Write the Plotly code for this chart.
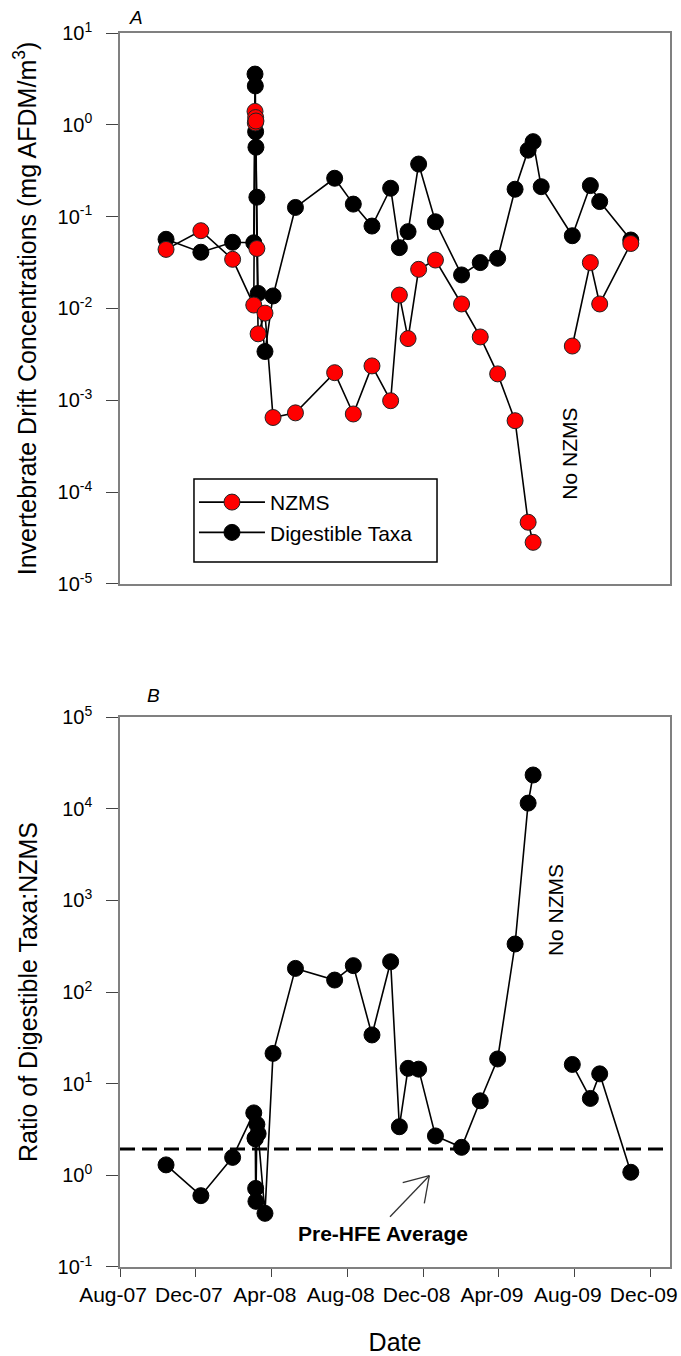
import plotly.graph_objects as go

# ---------------- data ----------------
dates = ["2007-10-14", "2007-12-09", "2008-01-29", "2008-03-03",
         "2008-03-05 00:00", "2008-03-05 12:00", "2008-03-06 00:00", "2008-03-06 12:00",
         "2008-03-08", "2008-03-10", "2008-03-21", "2008-04-03", "2008-05-09",
         "2008-07-11", "2008-08-10", "2008-09-09", "2008-10-09", "2008-10-23",
         "2008-11-06", "2008-11-23", "2008-12-20", "2009-01-31", "2009-03-02",
         "2009-03-30", "2009-04-27", "2009-05-18", "2009-05-26", "2009-06-08",
         "2009-07-28", "2009-08-26", "2009-09-10", "2009-10-30"]

digestible = [0.0567, 0.041, 0.0526, 0.052, 3.57, 2.65, 0.84, 0.57, 0.163, 0.0146,
              0.0034, 0.0137, 0.126, 0.262, 0.137, 0.079, 0.204, 0.046, 0.0687, 0.374,
              0.088, 0.0232, 0.0316, 0.0352, 0.199, 0.53, 0.656, 0.212, 0.062, 0.218,
              0.146, 0.0557]

nzms = [0.044, 0.0703, 0.0343, 0.0109, 1.40, 1.05, 1.20, 1.10, 0.045, 0.0053,
        0.0089, 0.00065, 0.00073, 0.0020, 0.00071, 0.00237, 0.00099, 0.014, 0.0047,
        0.0267, 0.0337, 0.0112, 0.0049, 0.00194, 0.0006, 4.7e-5, 2.84e-5, None,
        0.0039, 0.0316, 0.0112, 0.051]

ratio = [1.30, 0.60, 1.57, 4.8, 2.55, 2.5, 0.72, 0.52, 3.6, 2.85, 0.385, 21.4, 181,
         135, 194, 34, 214, 3.39, 14.7, 14.4, 2.69, 2.02, 6.5, 18.6, 334, 11500, 23300,
         None, 16.2, 6.9, 12.8, 1.08]

pre_hfe_avg = 1.94

x_tick_vals = ["2007-08-01", "2007-12-01", "2008-04-01", "2008-08-01",
               "2008-12-01", "2009-04-01", "2009-08-01", "2009-12-01"]
x_tick_text = ["Aug-07", "Dec-07", "Apr-08", "Aug-08", "Dec-08", "Apr-09", "Aug-09", "Dec-09"]

ya_vals = [1e-5, 1e-4, 1e-3, 1e-2, 1e-1, 1, 10]
ya_text = ["10<sup>-5</sup>", "10<sup>-4</sup>", "10<sup>-3</sup>", "10<sup>-2</sup>",
           "10<sup>-1</sup>", "10<sup>0</sup>", "10<sup>1</sup>"]
yb_vals = [0.1, 1, 10, 100, 1000, 10000, 100000]
yb_text = ["10<sup>-1</sup>", "10<sup>0</sup>", "10<sup>1</sup>", "10<sup>2</sup>",
           "10<sup>3</sup>", "10<sup>4</sup>", "10<sup>5</sup>"]

# ---------------- figure ----------------
FONT = "Arial, 'Liberation Sans', sans-serif"
FRAME = "#808080"

fig = go.Figure()

fig.add_trace(go.Scatter(
    x=dates, y=digestible, name="Digestible Taxa", mode="lines+markers",
    xaxis="x", yaxis="y", legendrank=2,
    line=dict(color="black", width=1.6),
    marker=dict(size=16, color="black", line=dict(color="black", width=1))))

fig.add_trace(go.Scatter(
    x=dates, y=nzms, name="NZMS", mode="lines+markers",
    xaxis="x", yaxis="y", legendrank=1, connectgaps=False,
    line=dict(color="black", width=1.6),
    marker=dict(size=16, color="#FF0000", line=dict(color="#222222", width=1))))

fig.add_trace(go.Scatter(
    x=dates, y=ratio, name="Ratio", mode="lines+markers", showlegend=False,
    xaxis="x2", yaxis="y2", connectgaps=False,
    line=dict(color="black", width=1.6),
    marker=dict(size=16, color="black", line=dict(color="black", width=1))))

xrange = ["2007-08-01", "2010-01-01"]
common_axis = dict(showline=True, linecolor=FRAME, linewidth=1.5, mirror=True,
                   showgrid=False, zeroline=False, automargin=False)

fig.update_layout(
    width=681, height=1356, autosize=False,
    margin=dict(l=120, r=11, t=33, b=89),
    paper_bgcolor="white", plot_bgcolor="white",
    font=dict(family=FONT, color="black", size=20),
    xaxis=dict(domain=[0, 1], anchor="y", type="date", range=xrange,
               showticklabels=False, ticks="", **common_axis),
    yaxis=dict(domain=[0.5535, 1], anchor="x", type="log", range=[-5, 1],
               tickvals=ya_vals, ticktext=ya_text, ticks="outside", ticklen=12,
               tickcolor="#444444", tickwidth=1.2, ticklabelstandoff=10,
               tickfont=dict(size=20),
               title=dict(text="Invertebrate Drift Concentrations (mg AFDM/m<sup>3</sup>)",
                          font=dict(size=25), standoff=14),
               **common_axis),
    xaxis2=dict(domain=[0, 1], anchor="y2", type="date", range=xrange,
                tickvals=x_tick_vals, ticktext=x_tick_text, ticks="outside", ticklen=8,
                tickcolor="#444444", tickwidth=1.2, tickfont=dict(size=21),
                ticklabelshift=-7,
                title=dict(text="Date", font=dict(size=25), standoff=33),
                **common_axis),
    yaxis2=dict(domain=[0, 0.4457], anchor="x2", type="log", range=[-1, 5],
                tickvals=yb_vals, ticktext=yb_text, ticks="outside", ticklen=12,
                tickcolor="#444444", tickwidth=1.2, ticklabelstandoff=10,
                tickfont=dict(size=20),
                title=dict(text="Ratio of Digestible Taxa:NZMS",
                           font=dict(size=25), standoff=13),
                **common_axis),
    legend=dict(x=0.1345, y=0.6362, xanchor="left", yanchor="top",
                bgcolor="rgba(0,0,0,0)", borderwidth=0,
                font=dict(size=21), itemwidth=66, tracegroupgap=0),
    showlegend=True,
)

# legend frame
fig.add_shape(type="rect", xref="paper", yref="paper",
              x0=0.1345, x1=0.5764, y0=0.5713, y1=0.6386,
              fillcolor="white", line=dict(color="black", width=1.5), layer="above")

# pre-HFE average dashed line
fig.add_shape(type="line", xref="x2 domain", x0=0, x1=1, yref="y2",
              y0=pre_hfe_avg, y1=pre_hfe_avg,
              line=dict(color="black", width=3, dash="15px,7px"))

# open arrow pointing to the dashed line
arrow_color = "#333333"
for (xa, ya, xb, yb) in [(0.4909, 0.0915, 0.5624, 0.1660),
                         (0.5140, 0.1533, 0.5624, 0.1660),
                         (0.5533, 0.1158, 0.5624, 0.1660)]:
    fig.add_shape(type="line", xref="x2 domain", yref="y2 domain",
                  x0=xa, y0=ya, x1=xb, y1=yb,
                  line=dict(color=arrow_color, width=1.3))

annotations = [
    dict(text="<i>A</i>", xref="paper", yref="paper", x=0.0284, y=1.0126,
         xanchor="center", yanchor="middle", showarrow=False, font=dict(size=19)),
    dict(text="<i>B</i>", xref="paper", yref="paper", x=0.06, y=0.4635,
         xanchor="center", yanchor="middle", showarrow=False, font=dict(size=19)),
    dict(text="No NZMS", xref="x", yref="y", x="2009-07-22", y=-3.585,
         xanchor="center", yanchor="middle",
         textangle=-90, showarrow=False, font=dict(size=21)),
    dict(text="No NZMS", xref="x2", yref="y2", x="2009-07-02", y=2.895,
         xanchor="center", yanchor="middle",
         textangle=-90, showarrow=False, font=dict(size=21)),
    dict(text="<b>Pre-HFE Average</b>", xref="x2 domain", yref="y2 domain",
         x=0.478, y=0.0618, xanchor="center", yanchor="middle",
         showarrow=False, font=dict(size=21)),
]
fig.update_layout(annotations=annotations)

fig.write_html("out.html")
